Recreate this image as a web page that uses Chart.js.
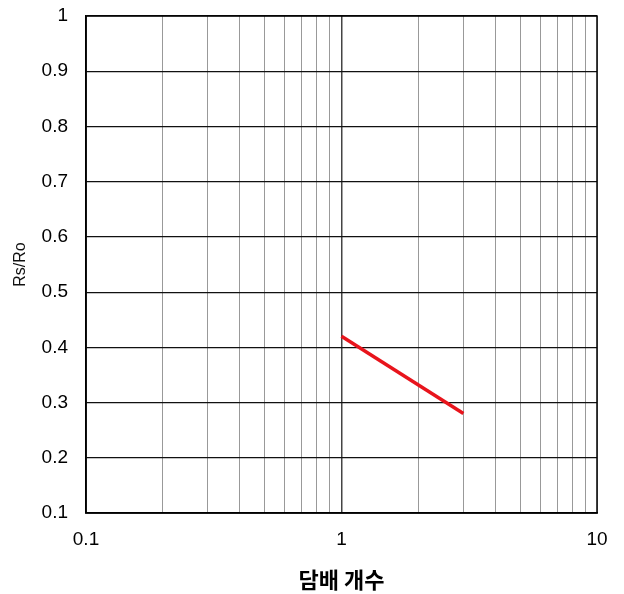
<!DOCTYPE html>
<html>
<head>
<meta charset="utf-8">
<script src="https://cdn.jsdelivr.net/npm/chart.js@4"></script>
<style>
  body { margin: 0; background: #fff; }
</style>
</head>
<body>
<canvas id="chart" width="624" height="594"></canvas>
<script>
const cigarettes = [1, 3];
const ratio = [0.42, 0.28];
const xTickLabels = [0.1, 1, 10];
const xGridValues = [0.1, 0.2, 0.3, 0.4, 0.5, 0.6, 0.7, 0.8, 0.9, 1, 2, 3, 4, 5, 6, 7, 8, 9, 10];

// draws the black frame round the plot area
const frame = {
  id: "frame",
  afterDraw(chart) {
    const { ctx, chartArea: a } = chart;
    ctx.save();
    ctx.strokeStyle = "#000";
    ctx.lineWidth = 1.5;
    ctx.strokeRect(a.left, a.top, a.right - a.left, a.bottom - a.top);
    ctx.restore();
  }
};

const ctx = document.getElementById("chart");

new Chart(ctx, {
  type: "line",
  data: {
    datasets: [
      {
        data: cigarettes.map((x, i) => ({ x: x, y: ratio[i] })),
        borderColor: "#e8141c",
        borderWidth: 3.5,
        pointRadius: 0,
        fill: false,
      },
    ],
  },
  options: {
    responsive: false,
    animation: false,
    layout: { padding: { top: 16, right: 27, left: 0, bottom: 0 } },
    plugins: {
      legend: { display: false },
      tooltip: { enabled: false },
    },
    scales: {
      x: {
        type: "logarithmic",
        min: 0.1,
        max: 10,
        afterBuildTicks: function(scale) {
          scale.ticks = xGridValues.map(v => ({ value: v }));
        },
        afterFit: function(scale) {
          scale.height = 81;
          scale.paddingLeft = 0;
          scale.paddingRight = 0;
        },
        grid: {
          drawTicks: false,
          color: c => (c.tick && c.tick.value === 1 ? "#444" : "#999"),
          lineWidth: c => (c.tick && c.tick.value === 1 ? 1.5 : 1),
        },
        border: { color: "#000", width: 1.5 },
        ticks: {
          autoSkip: false,
          maxRotation: 0,
          padding: 15,
          color: "#000",
          font: { family: "Liberation Sans", size: 19 },
          callback: function(value) {
            return xTickLabels.includes(value) ? String(value) : "";
          },
        },
        title: {
          display: true,
          text: "담배 개수",
          color: "#000",
          padding: { top: 0, bottom: 1 },
          font: { family: "Noto Sans CJK KR", size: 22, weight: "bold" },
        },
      },
      y: {
        min: 0.1,
        max: 1,
        afterFit: function(scale) {
          scale.width = 86;
          scale.paddingTop = 0;
          scale.paddingBottom = 0;
        },
        grid: {
          drawTicks: false,
          color: "#111",
          lineWidth: 1.2,
        },
        border: { color: "#000", width: 1.5 },
        ticks: {
          stepSize: 0.1,
          padding: 18,
          color: "#000",
          font: { family: "Liberation Sans", size: 19 },
          callback: function(value) {
            return String(parseFloat(value.toFixed(1)));
          },
        },
        title: {
          display: true,
          text: "Rs/Ro",
          color: "#111",
          padding: { top: 11, bottom: 0 },
          font: { family: "Liberation Sans", size: 16 },
        },
      },
    },
  },
  plugins: [frame],
});
</script>
</body>
</html>
